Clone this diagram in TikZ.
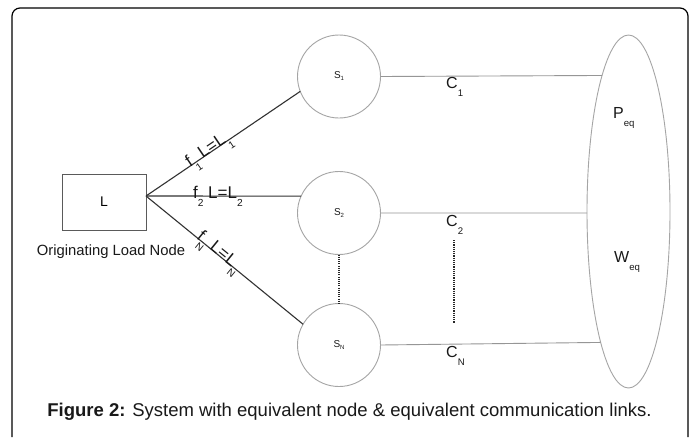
\documentclass[tikz,border=0pt]{standalone}
\usepackage{fontspec}
\setmainfont{Liberation Sans}
\usetikzlibrary{shapes.geometric}
\makeatletter
\newcommand{\dsub}[2][0.5em]{\raisebox{-#1}{\fontsize{\dimexpr 0.6\dimexpr\f@size pt\relax\relax}{1pt}\selectfont #2}}
\makeatother
\definecolor{darkline}{RGB}{50,50,50}
\definecolor{boxline}{RGB}{90,90,90}
\definecolor{lightline}{RGB}{165,165,165}
\definecolor{midline}{RGB}{150,150,150}
\definecolor{txt}{RGB}{25,25,25}
\tikzset{
  frame/.style={line width=1.2pt, draw=black, rounded corners=8pt},
  loadbox/.style={draw=boxline, line width=0.8pt, minimum width=84pt, minimum height=56pt, inner sep=0pt, outer sep=0pt},
  circ/.style={circle, draw=lightline, line width=0.9pt, minimum size=83pt, inner sep=0pt, outer sep=0pt, text=txt, font=\fontsize{10}{10}\selectfont},
  eqnode/.style={ellipse, draw=lightline, line width=0.9pt, minimum width=83pt, minimum height=353pt, inner sep=0pt, outer sep=0pt},
  darkconn/.style={draw=darkline, line width=1.1pt},
  lightconn/.style={draw=midline, line width=0.9pt},
  dotline/.style={draw=black!85, line width=1.8pt, dash pattern=on 1.1pt off 1.1pt},
  flab/.style={inner sep=0pt, text=txt, font=\fontsize{17}{17}\selectfont},
  clab/.style={inner sep=0pt, text=txt, font=\fontsize{16}{16}\selectfont},
  plab/.style={inner sep=0pt, text=txt, font=\fontsize{16}{16}\selectfont},
  caption/.style={inner sep=0pt, text=txt, font=\fontsize{18.5}{20}\selectfont},
}
\begin{document}
\begin{tikzpicture}[x=1pt,y=-1pt]
\useasboundingbox (0,0) rectangle (696,437);
\fill[white] (0,0) rectangle (696,437);
\draw[frame] (12,437) -- (12,8) -- (688,8) -- (688,437);
% load node
\node[loadbox] (L) at (104,202) {\fontsize{14}{14}\selectfont L};
\coordinate (J) at (146,196);
\node[inner sep=0pt, text=txt, font=\fontsize{14.8}{15}\selectfont] (orig) at (111,252) {Originating Load Node};
% servers
\node[circ] (s1) at (339,76.5) {S\dsub[2pt]{1}};
\node[circ] (s2) at (339,213) {S\dsub[2pt]{2}};
\node[circ] (sN) at (339,345) {S\dsub[2pt]{N}};
% equivalent node
\node[eqnode] (E) at (628.5,211.5) {};
\node[plab, anchor=base west] (P) at (613,118) {P\dsub{eq}};
\node[plab, anchor=base west] (W) at (614,262) {W\dsub{eq}};
% load links
\draw[darkconn] (J) -- node[pos=0.28, sloped, anchor=base west, flab, yshift=-1pt] (f1) {f\dsub{1} L=L\dsub{1}} (s1.201);
\draw[darkconn] (J) -- node[pos=0.3, anchor=base west, flab, yshift=-2pt] (f2) {f\dsub{2} L=L\dsub{2}} (s2.156);
\draw[darkconn] (J) -- node[pos=0.32, sloped, anchor=base west, flab, yshift=-1pt] (fN) {f\dsub{N} L=L\dsub{N}} (sN.150);
% communication links
\draw[lightconn] (s1.east) -- (E.101.3);
\draw[lightconn] (s2.east) -- (E.182);
\draw[lightconn] (sN.east) -- (E.258.3);
\node[clab, anchor=base west] (c1) at (446,88) {C\dsub{1}};
\node[clab, anchor=base west] (c2) at (446,226) {C\dsub{2}};
\node[clab, anchor=base west] (cN) at (446,357) {C\dsub{N}};
% dotted continuations
\draw[dotline] (s2) -- (sN);
\coordinate (d1) at (454,240);
\coordinate (d2) at (454,323);
\draw[dotline] (d1) -- (d2);
% caption
\node[caption] (cap) at (349.5,412) {\textbf{Figure 2:} System with equivalent node \& equivalent communication links.};
\end{tikzpicture}
\end{document}
